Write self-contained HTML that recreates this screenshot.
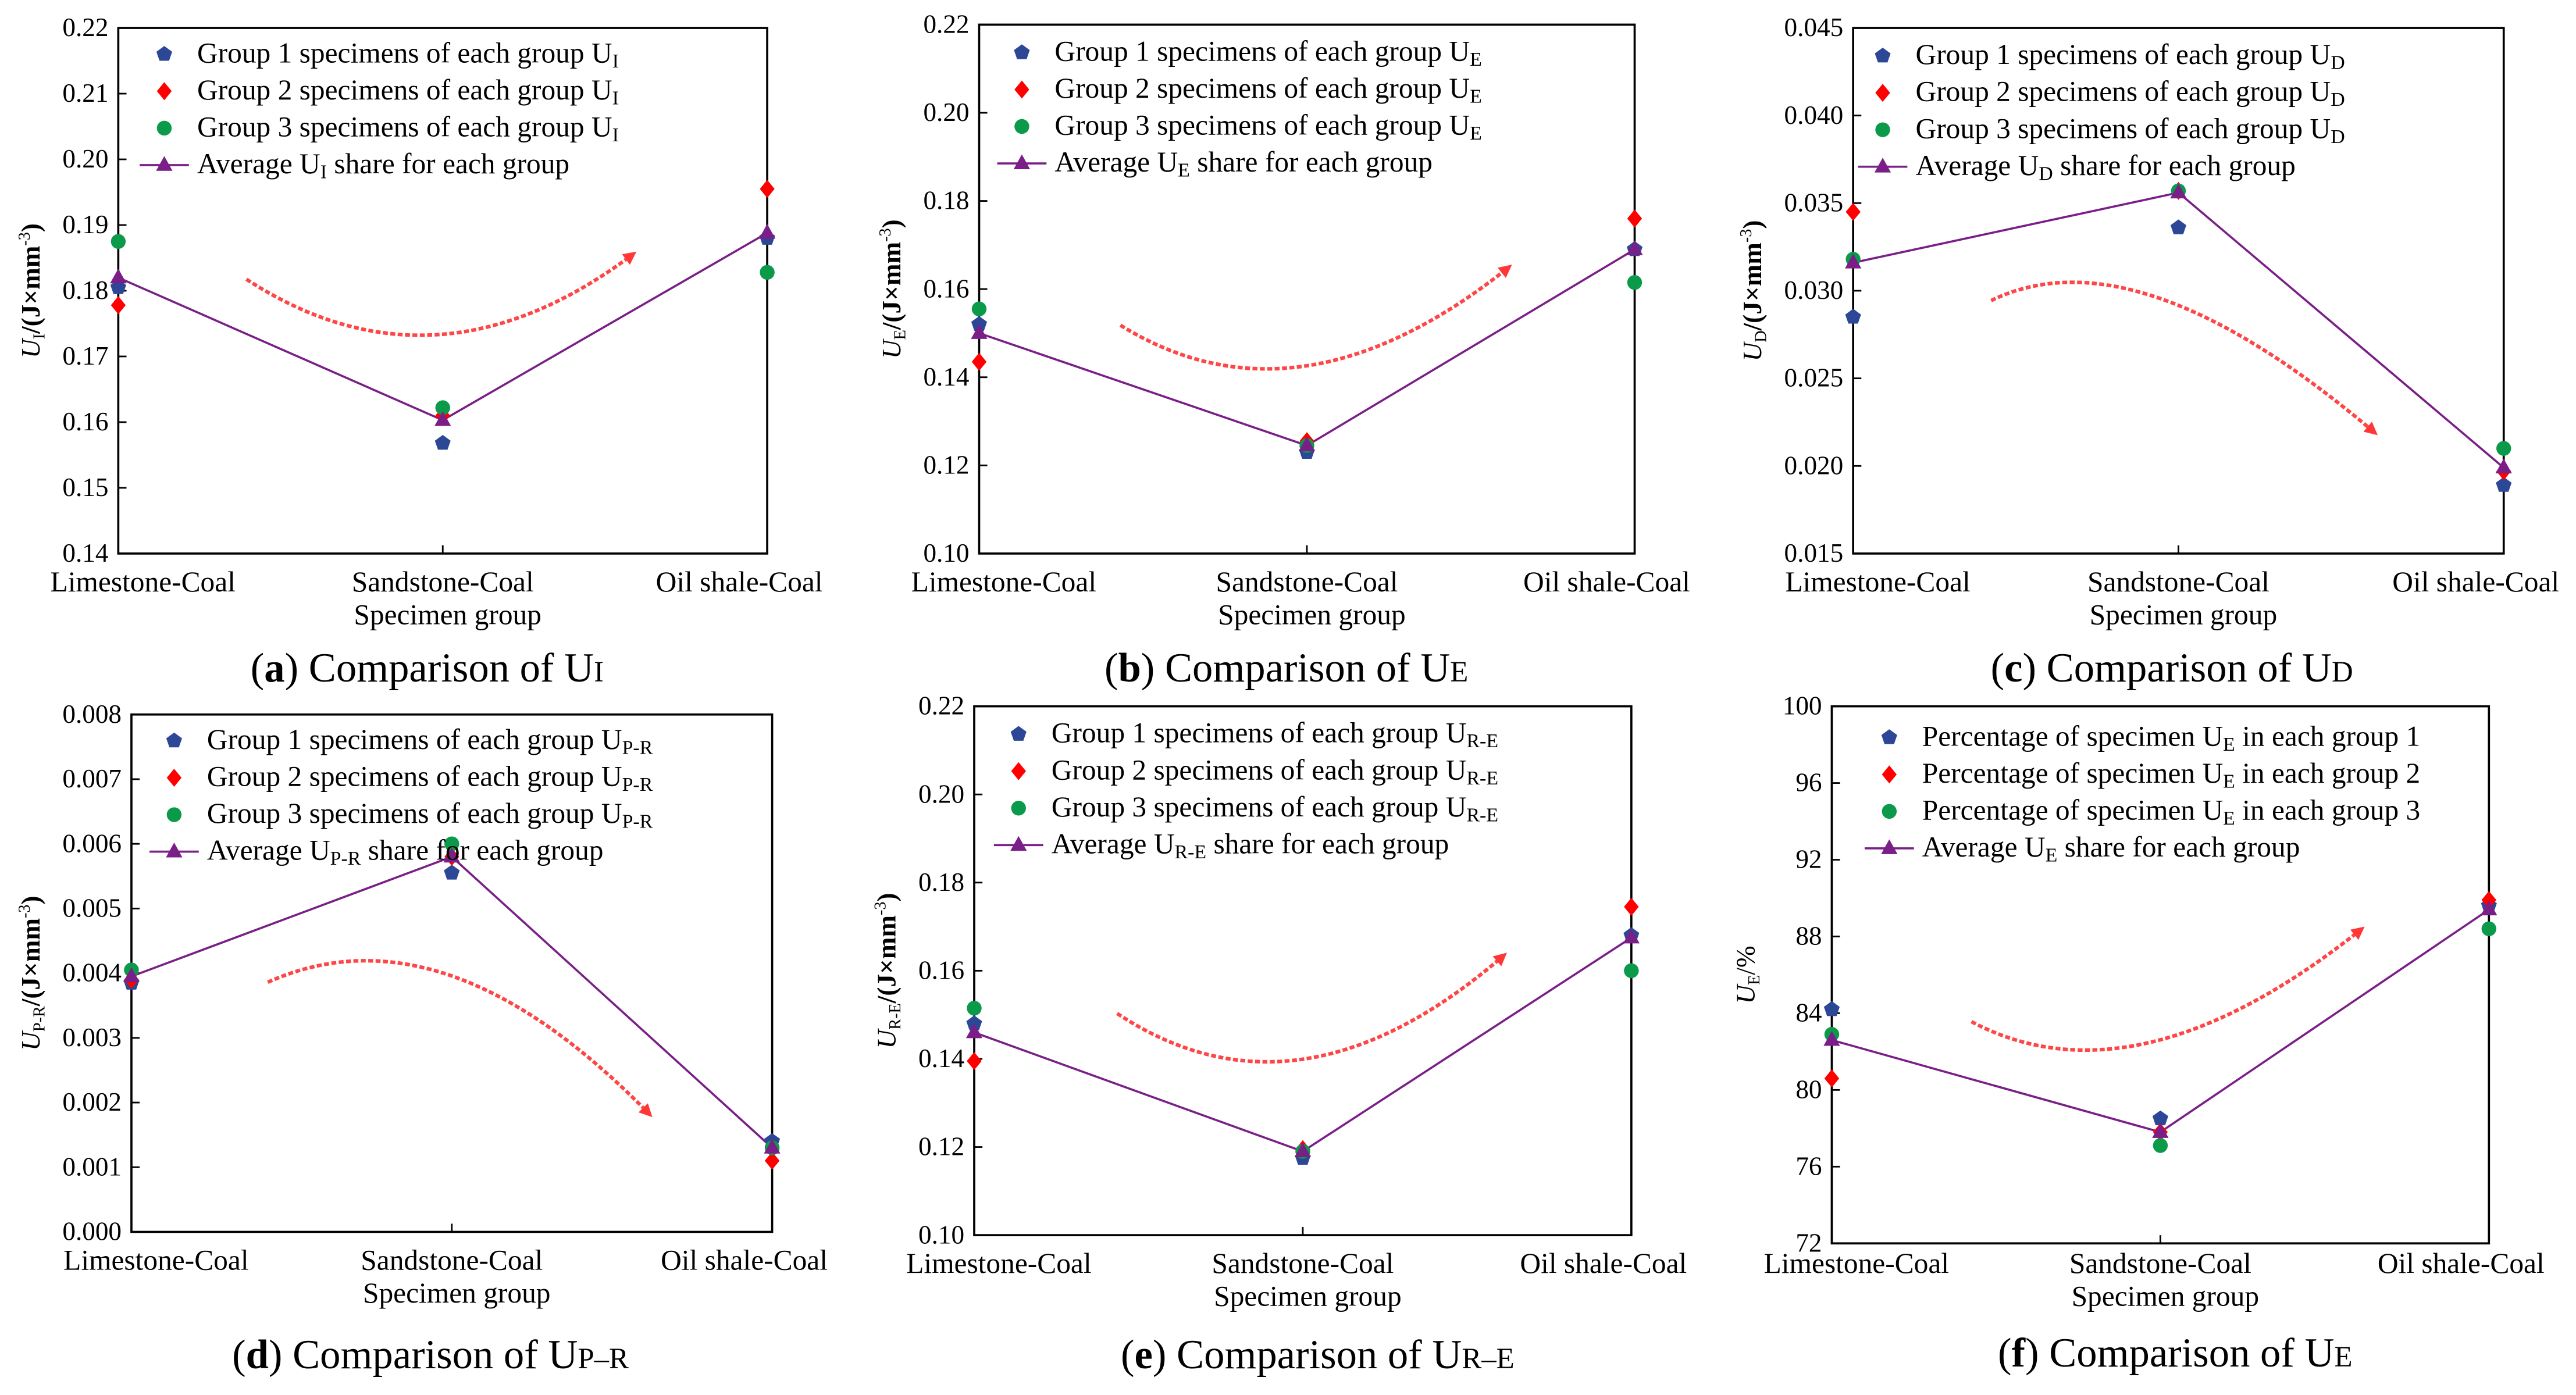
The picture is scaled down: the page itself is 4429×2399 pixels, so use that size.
<!DOCTYPE html>
<html><head><meta charset="utf-8"><style>
html,body{margin:0;padding:0;background:#fff}
svg{display:block}
text{font-family:"Liberation Serif",serif;fill:#000}
</style></head><body>
<svg id="fig" width="4429" height="2399" viewBox="0 0 1568 849.3" xmlns="http://www.w3.org/2000/svg">
<defs>
<marker id="ah" markerWidth="8" markerHeight="8" refX="5" refY="4" orient="auto" markerUnits="userSpaceOnUse"><path d="M0,0 L8,4 L0,8 Z" fill="#f22"/></marker>
</defs>
</svg>
<script>
const categories=["Limestone-Coal","Sandstone-Coal","Oil shale-Coal"];
const aG1=[0.1805,0.1568,0.1880],aG2=[0.1778,0.1610,0.1955],aG3=[0.1875,0.1622,0.1828],aAvg=[0.1820,0.1603,0.1888];
const aTicks=[0.14,0.15,0.16,0.17,0.18,0.19,0.20,0.21,0.22];
const bG1=[0.152,0.123,0.169],bG2=[0.1435,0.1255,0.176],bG3=[0.1555,0.1245,0.1615],bAvg=[0.150,0.1245,0.169];
const bTicks=[0.10,0.12,0.14,0.16,0.18,0.20,0.22];
const cG1=[0.0285,0.0336,0.0189],cG2=[0.0345,0.0357,0.0197],cG3=[0.0318,0.0357,0.0210],cAvg=[0.0316,0.0356,0.0199];
const cTicks=[0.015,0.020,0.025,0.030,0.035,0.040,0.045];
const dG1=[0.00385,0.00555,0.0014],dG2=[0.0039,0.0058,0.0011],dG3=[0.00405,0.0060,0.0013],dAvg=[0.00395,0.0058,0.0013];
const dTicks=[0,0.001,0.002,0.003,0.004,0.005,0.006,0.007,0.008];
const eG1=[0.148,0.1175,0.168],eG2=[0.1395,0.1195,0.1745],eG3=[0.1515,0.119,0.160],eAvg=[0.146,0.119,0.1675];
const eTicks=[0.10,0.12,0.14,0.16,0.18,0.20,0.22];
const fG1=[84.2,78.5,89.6],fG2=[80.6,77.8,89.9],fG3=[82.9,77.1,88.4],fAvg=[82.6,77.8,89.4];
const fTicks=[72,76,80,84,88,92,96,100];

const NS="http://www.w3.org/2000/svg";
const svg=document.getElementById('fig');
function mk(tag,attrs,parent,txt){const e=document.createElementNS(NS,tag);for(const k in attrs)e.setAttribute(k,attrs[k]);if(txt!==undefined)e.textContent=txt;(parent||svg).appendChild(e);return e;}
function pent(g,x,y){let p=[];for(let i=0;i<5;i++){const a=-Math.PI/2+i*2*Math.PI/5;p.push((x+5*Math.cos(a)).toFixed(1)+','+(y+5*Math.sin(a)).toFixed(1));}return mk('polygon',{points:p.join(' '),fill:'#2c4796'},g);}
function diam(g,x,y){return mk('polygon',{points:`${x},${y-5.5} ${x+4.5},${y} ${x},${y+5.5} ${x-4.5},${y}`,fill:'#f00'},g);}
function circ(g,x,y){return mk('circle',{cx:x,cy:y,r:4.5,fill:'#0a9a4a'},g);}
function tri(g,x,y){return mk('polygon',{points:`${x},${y-5.5} ${x+5},${y+3.5} ${x-5},${y+3.5}`,fill:'#7a1f87'},g);}

function panel(o){
  const g=mk('g',{});
  
  
  const x0=o.x0,x1=o.x1,yt=o.yt,yb=o.yb,t=o.ticks,ymin=t[0],ymax=t[t.length-1];
  const X=i=>x0+(x1-x0)*i/2;
  const Y=v=>yb-(v-ymin)/(ymax-ymin)*(yb-yt);
  const box=mk('rect',{x:x0,y:yt,width:x1-x0,height:yb-yt,fill:'none',stroke:'#000','stroke-width':1.3},g);
  
  
  t.forEach(v=>{
    mk('line',{x1:x0,x2:x0+5,y1:Y(v),y2:Y(v),stroke:'#000','stroke-width':1},g);
    const tl=mk('text',{x:x0-6,y:Y(v)+5,'text-anchor':'end','font-size':16},g,o.fmt(v));
    
    
  });
  mk('line',{x1:X(1),x2:X(1),y1:yb,y2:yb-5,stroke:'#000'},g);
  const offs=[15,0,-17];
  const cy=yb+(o.cdy||23);
  categories.forEach((c,i)=>{
    const cl=mk('text',{x:X(i)+offs[i],y:cy,'text-anchor':'middle','font-size':17.5},g,c);
    
    
  });
  const xt=mk('text',{x:X(1)+3,y:cy+20,'text-anchor':'middle','font-size':17.5},g,'Specimen group');
  
  
  const yt2=mk('text',{transform:`translate(${o.ytx},${(yt+yb)/2}) rotate(-90)`,'text-anchor':'middle','font-size':16},g);
  
  
  mk('tspan',{'font-style':'italic'},yt2,'U');
  mk('tspan',{'font-size':'10',dy:'3'},yt2,o.sub);
  mk('tspan',{dy:'-3','font-weight':o.unit==='%'?'normal':'bold'},yt2,o.unit==='%'?'/%':'/(J×mm');
  if(o.unit!=='%'){mk('tspan',{'font-size':'10',dy:'-6'},yt2,'-3');mk('tspan',{dy:'6','font-weight':'bold'},yt2,')');}
  const ar=mk('path',{d:o.arrow,fill:'none',stroke:'#f33','stroke-width':2.2,'stroke-dasharray':'3,1.5','marker-end':'url(#ah)',opacity:0.9},g);
  
  
  const pts=o.avg.map((v,i)=>X(i)+','+Y(v)).join(' ');
  const ln=mk('polyline',{points:pts,fill:'none',stroke:'#7a1f87','stroke-width':1.3},g);
  
  
  o.g1.forEach((v,i)=>{const m=pent(g,X(i),Y(v));});
  o.g2.forEach((v,i)=>{const m=diam(g,X(i),Y(v));});
  o.g3.forEach((v,i)=>{const m=circ(g,X(i),Y(v));});
  o.avg.forEach((v,i)=>{const m=tri(g,X(i),Y(v));});
  const lg=mk('g',{},g);
  
  
  const lx=o.lx,ly=o.ly,dy=o.ldy;
  const fns=[pent,diam,circ];
  for(let k=0;k<4;k++){
    const yy=ly+k*dy;
    if(k<3)fns[k](lg,lx+10,yy-5);else{mk('line',{x1:lx-5,x2:lx+25,y1:yy-5,y2:yy-5,stroke:'#7a1f87','stroke-width':1.3},lg);tri(lg,lx+10,yy-5);}
    const tx=mk('text',{x:lx+30,y:yy,'font-size':17.5},lg);
    
    
    if(o.pct){
      if(k<3){mk('tspan',{},tx,'Percentage of specimen U');mk('tspan',{'font-size':'12',dy:'3'},tx,'E');mk('tspan',{dy:'-3'},tx,' in each group '+(k+1));}
      else{mk('tspan',{},tx,'Average U');mk('tspan',{'font-size':'12',dy:'3'},tx,'E');mk('tspan',{dy:'-3'},tx,' share for each group');}
    }else{
      if(k<3){mk('tspan',{},tx,'Group '+(k+1)+' specimens of each group U');mk('tspan',{'font-size':'12',dy:'3'},tx,o.sub);}
      else{mk('tspan',{},tx,'Average U');mk('tspan',{'font-size':'12',dy:'3'},tx,o.sub);mk('tspan',{dy:'-3'},tx,'  share for each group');}
    }
  }
  const cap=mk('text',{x:o.capx,y:o.capy,'text-anchor':'middle','font-size':25},g);
  
  
  mk('tspan',{},cap,'(');mk('tspan',{'font-weight':'bold'},cap,o.letter);mk('tspan',{},cap,') Comparison of U');mk('tspan',{'font-size':'18'},cap,o.sub==='P-R'?'P–R':o.sub==='R-E'?'R–E':o.sub);
}
const f3=v=>v.toFixed(3),f2=v=>v.toFixed(2),f0=v=>v.toFixed(0);
panel({name:'panel-a',x0:72,x1:467,yt:17,yb:337,ticks:aTicks,fmt:f2,g1:aG1,g2:aG2,g3:aG3,avg:aAvg,sub:'I',unit:'J',ytx:24,lx:90,ly:38,ldy:22.5,capx:260,capy:415,letter:'a',arrow:'M150,170 Q265,245 385,155'});
panel({name:'panel-b',x0:596,x1:995,yt:15,yb:337,ticks:bTicks,fmt:f2,g1:bG1,g2:bG2,g3:bG3,avg:bAvg,sub:'E',unit:'J',ytx:548,lx:612,ly:37,ldy:22.5,capx:783,capy:415,letter:'b',arrow:'M682,198 Q790,265 918,163'});
panel({name:'panel-c',x0:1128,x1:1524,yt:17,yb:337,ticks:cTicks,fmt:f3,g1:cG1,g2:cG2,g3:cG3,avg:cAvg,sub:'D',unit:'J',ytx:1072,lx:1136,ly:39,ldy:22.5,capx:1322,capy:415,letter:'c',arrow:'M1212,183 Q1300,140 1445,263'});
panel({name:'panel-d',x0:80,x1:470,yt:435,yb:750,ticks:dTicks,fmt:f3,g1:dG1,g2:dG2,g3:dG3,avg:dAvg,sub:'P-R',unit:'J',ytx:24,lx:96,ly:456,ldy:22.5,capx:262,capy:833,letter:'d',arrow:'M163,598 Q270,550 395,678'});
panel({name:'panel-e',x0:593,x1:993,yt:430,yb:752,ticks:eTicks,fmt:f2,g1:eG1,g2:eG2,g3:eG3,avg:eAvg,sub:'R-E',unit:'J',ytx:545,lx:610,ly:452,ldy:22.5,capx:802,capy:833,letter:'e',arrow:'M680,617 Q790,690 915,582'});
panel({name:'panel-f',x0:1115,x1:1515,yt:430,yb:757,cdy:18,ticks:fTicks,fmt:f0,g1:fG1,g2:fG2,g3:fG3,avg:fAvg,sub:'E',unit:'%',pct:true,ytx:1068,lx:1140,ly:454,ldy:22.5,capx:1324,capy:832,letter:'f',arrow:'M1200,622 Q1300,675 1437,566'});
</script>
</body></html>
